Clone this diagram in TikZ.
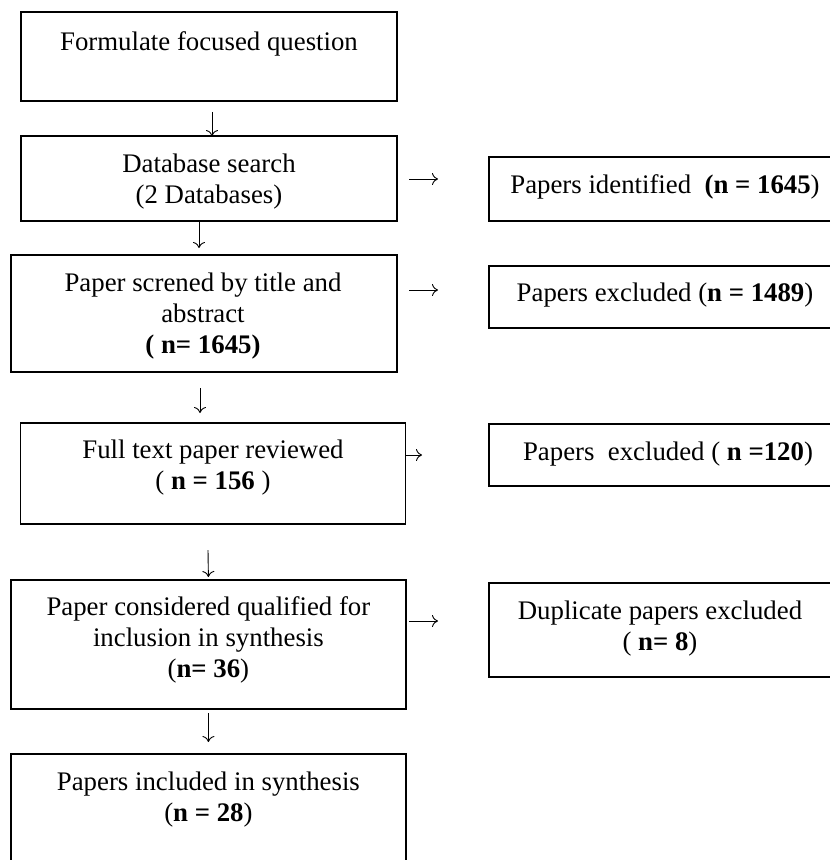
\documentclass[tikz,border=0pt]{standalone}
\usepackage{fontspec}
\setmainfont{Liberation Serif}
\usetikzlibrary{calc,positioning,arrows.meta}
\tikzset{
	box/.style={draw, line width=1.5pt, inner sep=0pt, outer sep=0pt},
	txt/.style={align=center, inner sep=0pt, font=\fontsize{26.8}{31}\selectfont},
	arr/.style={-{To[length=6pt,width=12pt]}, line width=0.9pt}
}

\begin{document}
\begin{tikzpicture}[x=1pt, y=-1pt]
			%%%%% START %%%%%
			\useasboundingbox (0, 0) rectangle (830, 860);
			\clip (0, 0) rectangle (830, 860);
			
			\node[box, minimum width=376pt, minimum height=88.7pt] (b1) at (209, 56.4) {};
			\node[box, minimum width=376pt, minimum height=84.7pt] (b2) at (209, 178.4) {};
			\node[box, minimum width=386pt, minimum height=117pt] (b3) at (204, 313.5) {};
			\node[box, minimum width=385pt, minimum height=101pt] (b4) at (213, 473.5) {};
			\node[box, minimum width=394.7pt, minimum height=129pt] (b5) at (208.4, 644.5) {};
			\node[box, minimum width=394.7pt, minimum height=126pt] (b6) at (208.4, 817) {};
			
			\node[box, minimum width=352pt, minimum height=64pt] (r1) at (665, 189) {};
			\node[box, minimum width=352pt, minimum height=62pt] (r2) at (665, 297) {};
			\node[box, minimum width=352pt, minimum height=62pt] (r3) at (665, 455) {};
			\node[box, minimum width=352pt, minimum height=94pt] (r4) at (665, 630) {};
			
			\node[txt, below=19.5pt of b1.north] (t1) {Formulate focused question};
			\node[txt, below=18pt of b2.north] (t2) {Database search\\(2 Databases)};
			\node[txt, below=17.5pt of b3.north, xshift=-1pt] (t3) {Paper screned by title and\\abstract\\\textbf{( n= 1645)}};
			\node[txt, below=17pt of b4.north] (t4) {Full text paper reviewed\\( \textbf{n = 156} )};
			\node[txt, below=16.5pt of b5.north] (t5) {Paper considered qualified for\\inclusion in synthesis\\(\textbf{n= 36})};
			\node[txt, below=17.5pt of b6.north] (t6) {Papers included in synthesis\\(\textbf{n = 28})};
			
			\node[txt, below=17pt of r1.north] (s1) {Papers identified~~\textbf{(n = 1645})};
			\node[txt, below=17pt of r2.north] (s2) {Papers excluded (\textbf{n = 1489})};
			\node[txt, below=18pt of r3.north, xshift=3pt] (s3) {Papers~~excluded ( \textbf{n =120})};
			\node[txt, below=18pt of r4.north, xshift=-5pt] (s4) {Duplicate papers excluded\\( \textbf{n= 8})};
			
			\draw[arr] ($(b1.south)+(3, 11)$) -- ($(b2.north)+(3, 0)$);
			\draw[arr] ($(b2.south)+(-10, 1.5)$) -- ($(b3.north)+(-5, -7)$);
			\draw[arr] ($(b3.south)+(-4, 16)$) -- ($(b4.north)+(-13, -10)$);
			\draw[arr] ($(b4.south)+(-5, 26)$) -- ($(b5.north)+(0, -3)$);
			\draw[arr] ($(b5.south)+(0, 4)$) -- ($(b6.north)+(0, -12)$);
			
			\draw[arr] ($(b2.east)+(12, 0.6)$) -- ($(r1.west)+(-51, -10)$);
			\draw[arr] ($(b3.east)+(12, -23.5)$) -- ($(r2.west)+(-51, -7)$);
			\draw[arr] ($(b4.east)+(0, -18.5)$) -- ($(r3.west)+(-67, 0)$);
			\draw[arr] ($(b5.east)+(3.3, -23.5)$) -- ($(r4.west)+(-51, -9)$);
			%%%%% END %%%%%
		\end{tikzpicture}
\end{document}
